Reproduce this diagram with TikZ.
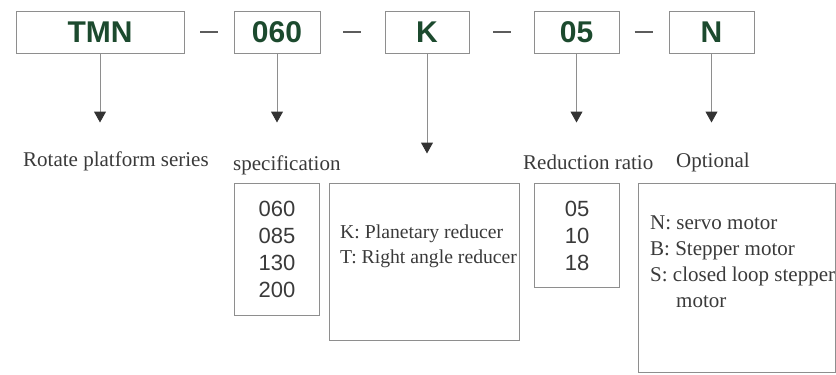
\documentclass[tikz,border=0pt]{standalone}
\usepackage{fontspec}
\setmainfont{Liberation Serif}
\setsansfont{Liberation Sans}
\usetikzlibrary{arrows.meta}
\definecolor{codegreen}{HTML}{1C4A2E}
\definecolor{framegray}{HTML}{8E8E8E}
\definecolor{tipgray}{HTML}{333333}
\definecolor{inkgray}{HTML}{3A3A3A}
\tikzset{listbox/.style={draw=framegray,line width=1pt,fill=none,inner sep=0pt}}

\begin{document}
\begin{tikzpicture}[x=1pt,y=-1pt,
      % styles for clarity
      codebox/.style ={listbox, minimum height=42pt,
                       font=\sffamily\bfseries\fontsize{30}{30}\selectfont, text=codegreen},
      digits/.style  ={font=\sffamily\fontsize{22}{27}\selectfont, text=inkgray, align=center},
      caption/.style ={font=\fontsize{21}{25}\selectfont, text=inkgray, inner sep=0pt},
      small caption/.style={caption, font=\fontsize{19.7}{24}\selectfont},
      sepline/.style ={draw=tipgray!80, line width=2pt},
      pointer/.style ={draw=framegray, line width=1pt,
                       -{Triangle[width=12pt,length=11pt,color=tipgray]}}
    ]
    \useasboundingbox (0,0) rectangle (836,375);

    % order code boxes
    \foreach \n/\t/\x/\w in {tmn/TMN/100/168, size/060/277/86, gear/K/427/84,
                             ratio/05/576.5/85, motor/N/711.5/85}
      \node[codebox, minimum width=\w pt] (\n) at (\x,32) {\t};

    % separators between the boxes
    \foreach \x in {209,352,502,643.5}
      \draw[sepline] (\x-9,32) -- (\x+9,32);

    % pointers down to the captions
    \foreach \n/\d in {tmn/69, size/69, gear/100, ratio/69, motor/69}{
      \coordinate (\n tip) at ([yshift=-\d pt]\n.south);
      \draw[pointer] (\n) -- (\n tip);
    }

    % captions
    \node[caption, anchor=base west] (series)  at (23,166)  {Rotate platform series};
    \node[caption, anchor=base west] (spec)    at (233,170) {specification};
    \node[caption, anchor=base west] (reduct)  at (523,169) {Reduction ratio};
    \node[caption, anchor=base west] (option)  at (676,167) {Optional};

    % value boxes
    \node[listbox, anchor=north west, minimum width=85pt, minimum height=132pt]
      (sizelist) at (234,183) {};
    \node[digits] (sizevals) at (sizelist) {060\\085\\130\\200};

    \node[listbox, anchor=north west, minimum width=190pt, minimum height=157pt]
      (gearlist) at (329,183) {};
    \foreach \t [count=\i from 0] in {K: Planetary reducer, T: Right angle reducer}
      \node[small caption, anchor=base west] (gear\i) at (340,238+25*\i) {\t};

    \node[listbox, anchor=north west, minimum width=85pt, minimum height=104pt]
      (ratiolist) at (534,183) {};
    \node[digits] (ratiovals) at (ratiolist) {05\\10\\18};

    \node[listbox, anchor=north west, minimum width=197pt, minimum height=189pt]
      (motorlist) at (638,183) {};
    \foreach \t/\x [count=\i from 0] in {N: servo motor/650, B: Stepper motor/650,
                                         S: closed loop stepper/650, motor/676}
      \node[caption, anchor=base west] (motor\i) at (\x,229+26*\i) {\t};
  \end{tikzpicture}
\end{document}
